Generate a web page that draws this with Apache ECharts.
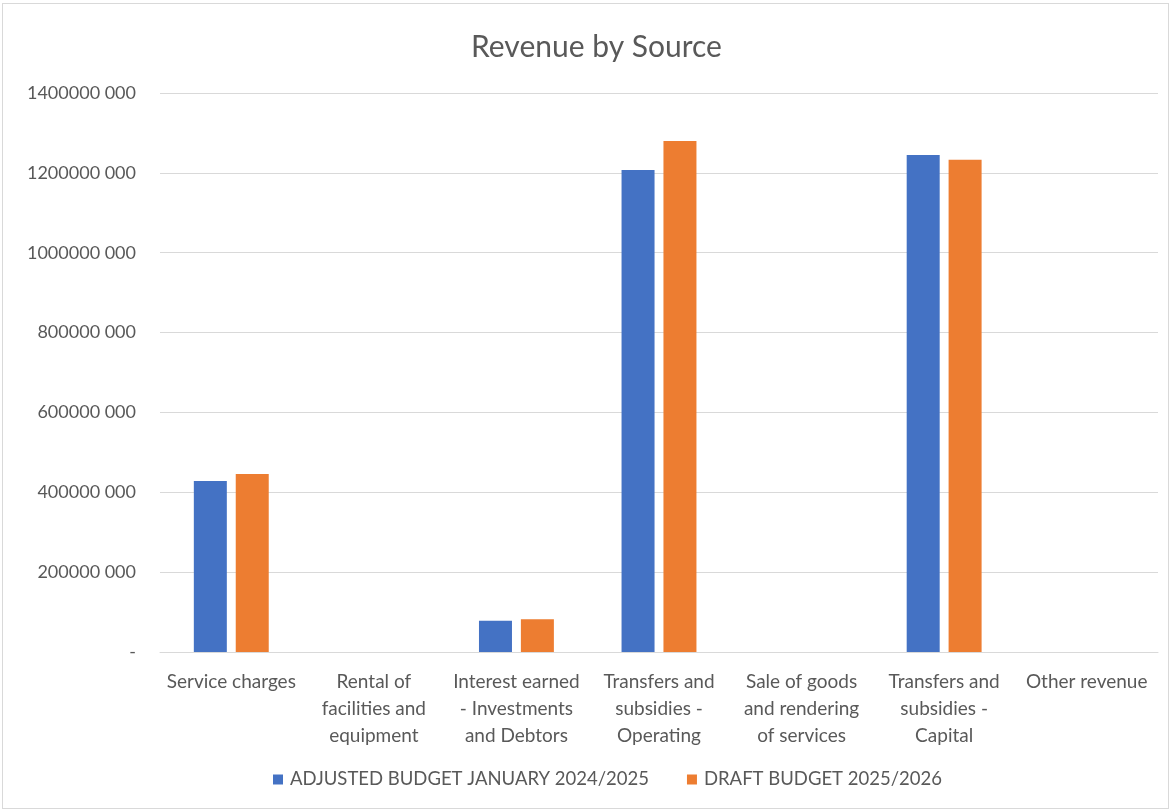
<!DOCTYPE html>
<html><head><meta charset="utf-8">
<script src="https://cdn.jsdelivr.net/npm/echarts@6/dist/echarts.min.js"></script>
<style>html,body{margin:0;padding:0;background:#fff;}#frame{position:absolute;left:2px;top:3px;width:1167px;height:806px;border:1px solid #d9d9d9;box-sizing:border-box;}#c{position:absolute;left:0;top:0;width:1173px;height:812px;}</style>
</head><body><div id="frame"></div><div id="c"></div>
<script>
const categories = ["Service charges","Rental of\nfacilities and\nequipment","Interest earned\n- Investments\nand Debtors","Transfers and\nsubsidies -\nOperating","Sale of goods\nand rendering\nof services","Transfers and\nsubsidies -\nCapital","Other revenue"];
const adjusted2024 = [428000000, 0, 78000000, 1207000000, 0, 1245000000, 0];
const draft2025 = [446000000, 0, 82000000, 1280000000, 0, 1233000000, 0];
const seriesNames = ["ADJUSTED BUDGET JANUARY 2024/2025", "DRAFT BUDGET 2025/2026"];
const yMin = 0, yMax = 1400000000, yStep = 200000000;

const FONT = "Lato, 'Liberation Sans', sans-serif";
const chart = echarts.init(document.getElementById('c'));
chart.setOption({
  backgroundColor: 'transparent',
  animation: false,
  textStyle: {fontFamily: FONT},
  title: {text: 'Revenue by Source', left: 466, top: 27, textStyle: {fontFamily: FONT, fontSize: 30, fontWeight: 'normal', color: '#595959'}},
  legend: {bottom: 18, left: 268, itemWidth: 10, itemHeight: 10, itemGap: 38, icon: 'rect',
    textStyle: {fontFamily: FONT, fontSize: 18.5, color: '#595959', padding: [0, 0, 0, 2]}},
  grid: {left: 160, right: 15, top: 93, bottom: 160},
  xAxis: {type: 'category', data: categories,
    axisLine: {show: true, lineStyle: {color: '#d9d9d9', width: 1}}, axisTick: {show: false},
    axisLabel: {fontFamily: FONT, fontSize: 19, color: '#595959', lineHeight: 27, margin: 16, interval: 0}},
  yAxis: {type: 'value', min: yMin, max: yMax, interval: yStep,
    axisLine: {show: false}, axisTick: {show: false},
    splitLine: {lineStyle: {color: '#d9d9d9', width: 1}},
    axisLabel: {fontFamily: FONT, fontSize: 18, color: '#595959', margin: 24,
      formatter: v => v === 0 ? '-' : (Math.floor(v/1000) + ' ' + String(v % 1000).padStart(3,'0'))}},
  series: [
    {name: seriesNames[0], type: 'bar', data: adjusted2024, barWidth: 33, barGap: '27%', itemStyle: {color: '#4472c4'}},
    {name: seriesNames[1], type: 'bar', data: draft2025, barWidth: 33, itemStyle: {color: '#ed7d31'}}
  ]
});
</script></body></html>
